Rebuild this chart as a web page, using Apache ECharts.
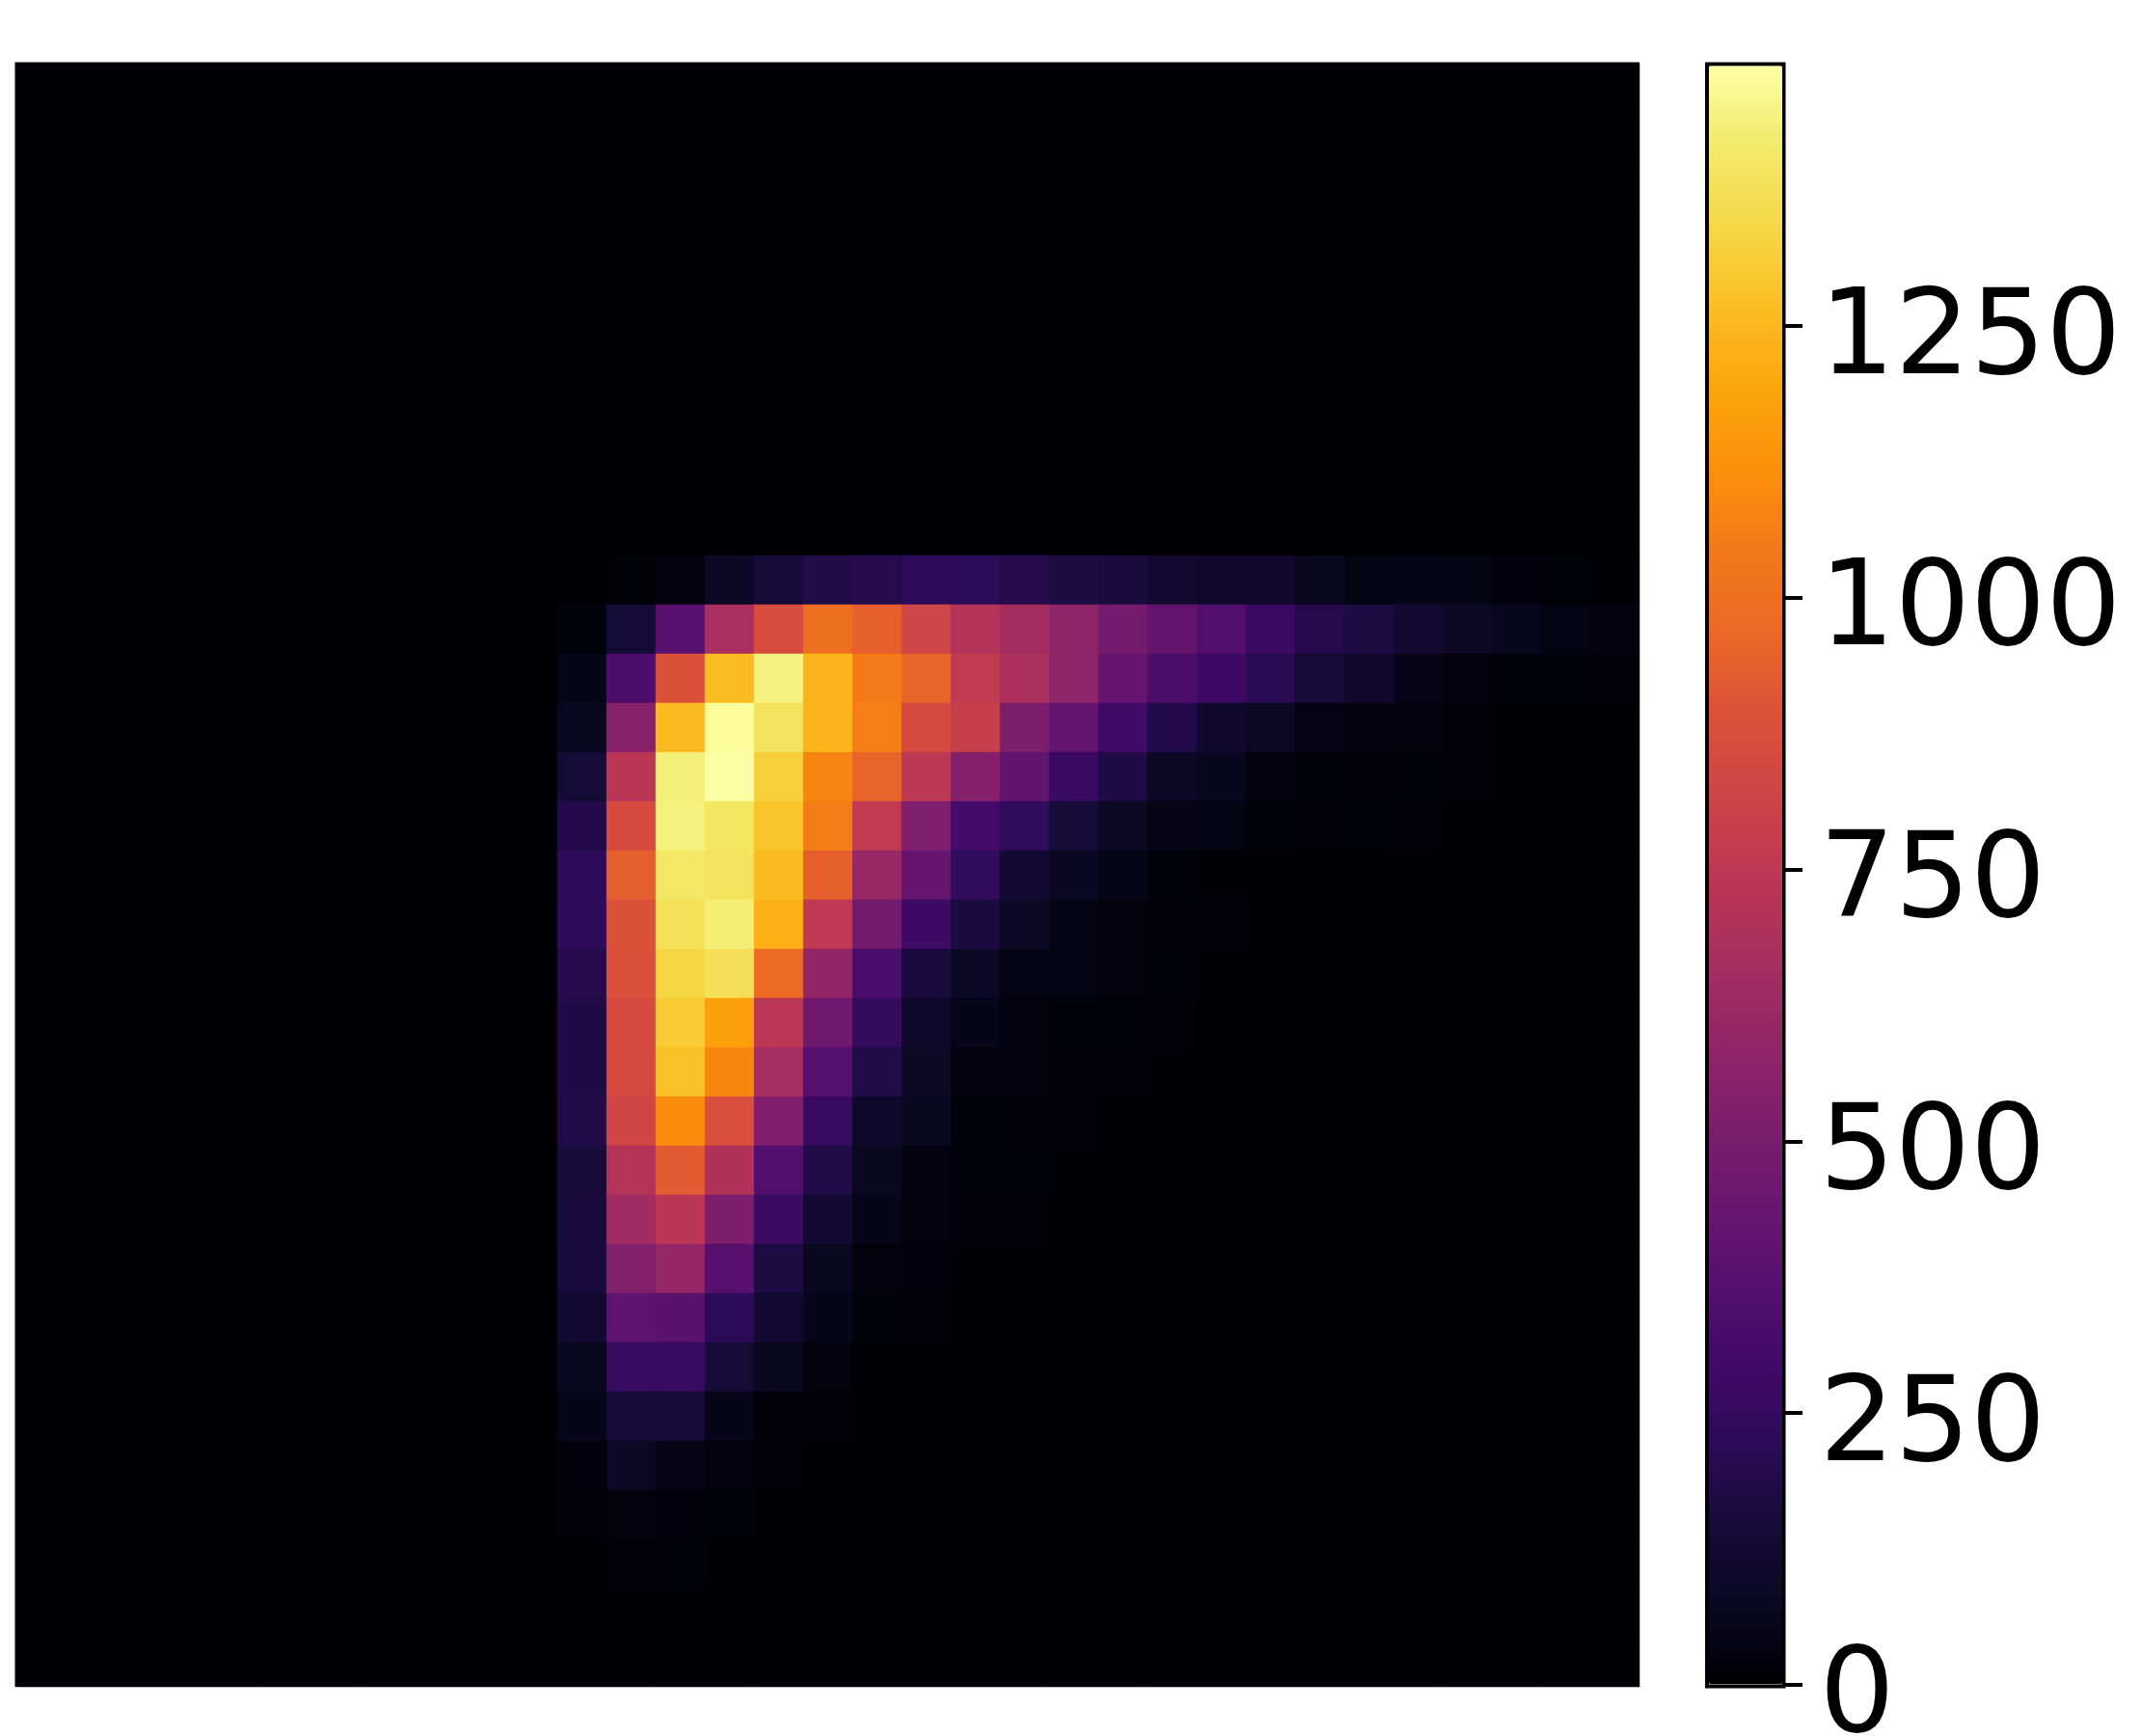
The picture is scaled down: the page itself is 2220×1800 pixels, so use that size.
<!DOCTYPE html>
<html>
<head>
<meta charset="utf-8">
<style>html,body{margin:0;padding:0;background:#fff}#c{width:2220px;height:1800px}</style>
<script src="https://cdn.jsdelivr.net/npm/echarts@6/dist/echarts.min.js"></script>
</head>
<body>
<div id="c"></div>
<script>
const blank = [0,0,0,0,0,0,0,0,0,0,0,0,0,0,0,0,0,0,0,0,0,0,0,0,0,0,0,0,0,0,0,0,0];
const row10 = [0,0,0,0,0,0,0,0,0,0,0,0,8,25,80,150,185,200,230,220,195,170,160,120,110,110,70,30,45,30,18,15,3];
const row11 = [0,0,0,0,0,0,0,0,0,0,0,15,140,375,680,865,995,940,825,715,655,575,485,420,350,270,195,170,120,85,60,30,25];
const row12 = [0,0,0,0,0,0,0,0,0,0,0,50,335,895,1260,1445,1240,1050,955,760,690,575,425,335,275,205,140,110,55,25,15,15,6];
const row13 = [0,0,0,0,0,0,0,0,0,0,0,70,550,1255,1480,1390,1240,1065,850,790,510,415,290,190,110,80,35,25,20,12,3,2,2];
const row14 = [0,0,0,0,0,0,0,0,0,0,0,140,740,1435,1493,1320,1085,955,750,545,410,265,180,80,65,25,15,12,8,6,2,2,2];
const row15 = [0,0,0,0,0,0,0,0,0,0,3,190,850,1440,1400,1285,1060,760,520,305,235,140,80,40,30,15,12,8,5,2,2,2,2];
const row16 = [0,0,0,0,0,0,0,0,0,0,3,225,935,1410,1390,1255,940,610,425,235,125,75,45,15,3,2,2,2,2,2,2,2,2];
const row17 = [0,0,0,0,0,0,0,0,0,0,3,230,895,1380,1430,1225,755,480,280,165,85,30,20,12,5,2,2,2,2,2,2,2,2];
const row18 = [0,0,0,0,0,0,0,0,0,0,3,195,890,1335,1375,980,590,330,155,85,30,30,20,8,3,2,2,2,2,2,2,2,2];
const row19 = [0,0,0,0,0,0,0,0,0,0,0,180,850,1305,1170,745,460,240,100,50,20,15,8,5,2,2,2,2,2,2,2,2,2];
const row20 = [0,0,0,0,0,0,0,0,0,0,0,180,850,1275,1090,665,365,185,85,20,20,10,5,3,2,2,2,2,2,2,2,2,2];
const row21 = [0,0,0,0,0,0,0,0,0,0,0,185,830,1105,875,525,255,100,70,15,10,5,3,2,2,2,2,2,2,2,2,2,2];
const row22 = [0,0,0,0,0,0,0,0,0,0,0,150,715,925,700,350,185,70,25,15,8,3,2,2,2,2,2,2,2,2,2,2,2];
const row23 = [0,0,0,0,0,0,0,0,0,0,0,155,650,740,515,260,130,50,25,12,5,2,2,2,2,2,2,2,2,2,2,2,2];
const row24 = [0,0,0,0,0,0,0,0,0,0,0,160,535,605,370,170,70,20,18,3,2,2,2,2,2,2,2,2,2,2,2,2,2];
const row25 = [0,0,0,0,0,0,0,0,0,0,0,115,400,385,220,120,50,15,12,2,2,2,2,2,2,2,2,2,2,2,2,2,2];
const row26 = [0,0,0,0,0,0,0,0,0,0,0,70,255,255,140,70,20,3,3,3,2,2,2,2,2,2,2,2,2,2,2,2,2];
const row27 = [0,0,0,0,0,0,0,0,0,0,0,50,150,150,50,12,10,2,2,2,2,2,2,2,2,2,2,2,2,2,2,2,2];
const row28 = [0,0,0,0,0,0,0,0,0,0,0,18,80,42,25,5,2,2,2,2,2,2,2,2,2,2,2,2,2,2,2,2,2];
const row29 = [0,0,0,0,0,0,0,0,0,0,0,10,22,18,8,2,2,2,2,2,2,2,2,2,2,2,2,2,2,2,2,2,2];
const row30 = [0,0,0,0,0,0,0,0,0,0,0,2,10,15,2,2,2,2,2,2,2,2,2,2,2,2,2,2,2,2,2,2,2];

const rows = [blank,blank,blank,blank,blank,blank,blank,blank,blank,blank,
  row10,row11,row12,row13,row14,row15,row16,row17,row18,row19,row20,
  row21,row22,row23,row24,row25,row26,row27,row28,row29,row30,blank,blank];

const colourTicks = [0,250,500,750,1000,1250];
const colourMin = -1.5;
const colourMax = 1491;
const inferno = ['#000004','#0a0722','#160b39','#2d0b59','#420a68','#57106e','#6a176e','#7f1e6c','#932667','#a82e5f','#bc3754','#cf4446','#dd513a','#ec6824','#f37819','#fb900b','#fca50a','#fbbe23','#f6d746','#f2ea69','#fcffa4'];

const xCats = blank.map((_, i) => i);
const yCats = rows.map((_, i) => i);
const cells = [];
rows.forEach((r, y) => r.forEach((v, x) => cells.push([x, y, v])));

const chart = echarts.init(document.getElementById('c'), null, {renderer: 'canvas'});
chart.setOption({
  animation: false,
  backgroundColor: '#ffffff',
  grid: [
    {left: 15.5, top: 64.5, width: 1684.5, height: 1684.5, backgroundColor: '#000004', show: true, borderWidth: 0, outerBoundsMode: 'none'},
    {left: 17, top: 66, width: 1683, height: 1683, show: false, outerBoundsMode: 'none'},
    {left: 1770, top: 66.5, width: 79.5, height: 1682, show: true, borderColor: '#000', borderWidth: 4, backgroundColor: 'transparent', outerBoundsMode: 'none'},
    {left: 1770, top: 83, width: 79.5, height: 1682, show: false, outerBoundsMode: 'none'}
  ],
  xAxis: [
    {type: 'category', gridIndex: 0, data: [0], show: false},
    {type: 'category', gridIndex: 1, data: xCats, show: false},
    {type: 'category', gridIndex: 2, data: [0], show: false},
    {type: 'category', gridIndex: 3, data: [0], show: false}
  ],
  yAxis: [
    {type: 'category', gridIndex: 0, data: [0], show: false},
    {type: 'category', gridIndex: 1, data: yCats, inverse: true, show: false},
    {
      type: 'value', gridIndex: 2, position: 'right', min: colourMin, max: colourMax,
      axisLine: {show: false},
      splitLine: {show: false},
      axisTick: {show: true, inside: false, length: 19.5, lineStyle: {color: '#000', width: 4}, customValues: colourTicks},
      axisLabel: {show: false}
    },
    {
      type: 'value', gridIndex: 3, position: 'right', min: colourMin, max: colourMax,
      axisLine: {show: false},
      splitLine: {show: false},
      axisTick: {show: false},
      axisLabel: {show: true, margin: 37, fontFamily: 'DejaVu Sans', fontSize: 123, color: '#000', customValues: colourTicks, hideOverlap: false, formatter: (v) => String(v)}
    }
  ],
  visualMap: {
    type: 'continuous', seriesIndex: 0, min: colourMin, max: colourMax,
    inRange: {color: inferno},
    left: 1772, top: 68.5, itemWidth: 76, itemHeight: 1678, padding: 0,
    calculable: false, realtime: false, hoverLink: false, text: null,
    orient: 'vertical'
  },
  series: [{
    type: 'heatmap', xAxisIndex: 1, yAxisIndex: 1, data: cells,
    progressive: 0, emphasis: {disabled: true}, silent: true
  }]
});
</script>
</body>
</html>
